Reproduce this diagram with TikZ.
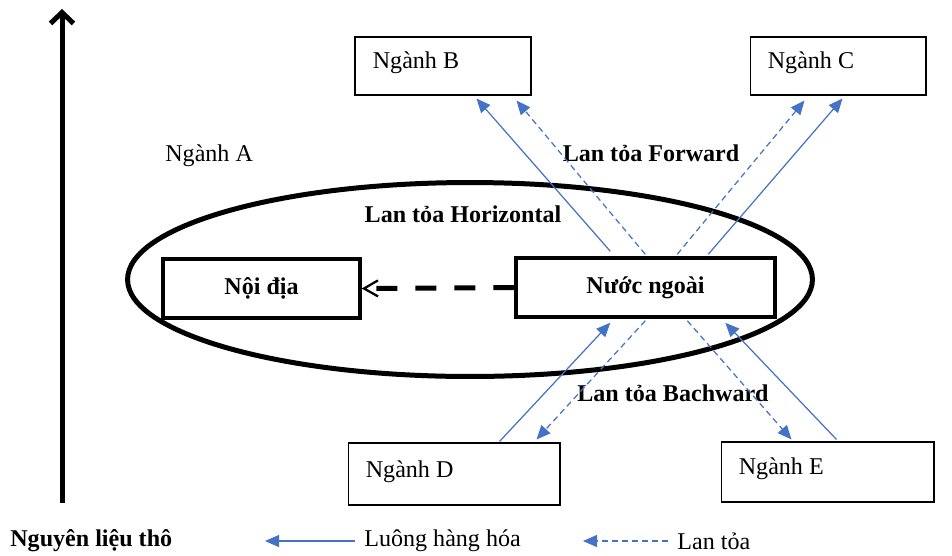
\documentclass[tikz,border=0pt]{standalone}
\usepackage{fontspec}
\setmainfont{Liberation Serif}
\usetikzlibrary{arrows.meta,calc}
\definecolor{luong}{HTML}{4472C4}

\tikzset{
  nganh/.style={draw,line width=0.6pt,inner sep=0pt,minimum width=3.52cm,minimum height=1.16cm},
  khoi/.style={draw,line width=0.07cm,inner sep=0pt,minimum height=1.18cm,font=\bfseries},
  nhan/.style={inner sep=0pt},
  hang/.style={luong,line width=0.7pt,-{Triangle[length=0.28cm,width=0.24cm]}},
  lantoa/.style={hang,dash pattern=on 0.12cm off 0.08cm},
}

\begin{document}
\fontsize{13.7}{16}\selectfont
\begin{tikzpicture}[x=0.02cm,y=-0.02cm]
\useasboundingbox (0,0) rectangle (952,555);

\coordinate (truc0) at (62,503);
\coordinate (truc1) at (62,9);
\draw[line width=0.1cm,-{Straight Barb[length=0.22cm,width=0.46cm]}] (truc0) -- (truc1);

\draw[line width=0.1cm] (470,279.5) ellipse [x radius=6.85cm,y radius=1.94cm];

\node[nganh,label={[nhan,anchor=west,xshift=0.36cm,yshift=0.06cm]west:Ngành B}] (ngB) at (443,66) {};
\node[nganh,label={[nhan,anchor=west,xshift=0.36cm,yshift=0.06cm]west:Ngành C}] (ngC) at (838,66) {};
\node[nganh,minimum width=4.24cm,minimum height=1.24cm,label={[nhan,anchor=west,xshift=0.36cm,yshift=0.04cm]west:Ngành D}] (ngD) at (454,474) {};
\node[nganh,minimum width=4.26cm,minimum height=1.2cm,label={[nhan,anchor=west,xshift=0.36cm,yshift=0.06cm]west:Ngành E}] (ngE) at (827.5,472) {};

\node[nhan,anchor=west] (ngA) at (165,156) {Ngành A};

\node[khoi,minimum width=3.94cm] (noi) at (261.5,288.5) {Nội địa};
\node[khoi,minimum width=5.18cm] (nuoc) at (645.5,287.5) {Nước ngoài};

\node[nhan,font=\bfseries] (ngang) at (463,214) {Lan tỏa Horizontal};
\node[nhan,font=\bfseries] (xuoi) at (651,153) {Lan tỏa Forward};
\node[nhan,font=\bfseries] (nguoc) at (673,393) {Lan tỏa Bachward};

% lan toa ngang
\draw[line width=0.1cm,dash pattern=on 0.42cm off 0.36cm,-{Straight Barb[length=0.28cm,width=0.32cm,line width=0.045cm]}] (nuoc.west) -- (noi.east);

% phia tren
\draw[hang] ($(nuoc.north west)+(96,-5)$) -- ($(ngB.south west)+(122,3)$);
\draw[lantoa] ($(nuoc.north west)+(131,-2)$) -- ($(ngB.south west)+(162,5)$);
\draw[lantoa] ($(nuoc.north west)+(163,-2)$) -- ($(ngC.south west)+(55,5)$);
\draw[hang] ($(nuoc.north west)+(194,-2)$) -- ($(ngC.south west)+(93,3)$);

% phia duoi
\draw[hang] ($(ngD.north west)+(152,-1)$) -- ($(nuoc.south west)+(96,4)$);
\draw[lantoa] ($(nuoc.south west)+(131,2)$) -- ($(ngD.north west)+(189,-3)$);
\draw[lantoa] ($(nuoc.south west)+(173,2)$) -- ($(ngE.north west)+(71,-2)$);
\draw[hang] ($(ngE.north west)+(116,-2)$) -- ($(nuoc.south west)+(211,4)$);

% chu thich
\node[nhan,anchor=west,font=\bfseries] (tho) at (10,541) {Nguyên liệu thô};
\node[nhan,anchor=west] (hh) at (364,541) {Luông hàng hóa};
\node[nhan,anchor=west] (lt) at (677,541) {Lan tỏa};
\coordinate (hh0) at (265,541);
\coordinate (lt0) at (583,541);
\draw[hang] ([xshift=-0.18cm]hh.west) -- (hh0);
\draw[lantoa] ([xshift=-0.18cm]lt.west) -- (lt0);
\end{tikzpicture}
\end{document}
